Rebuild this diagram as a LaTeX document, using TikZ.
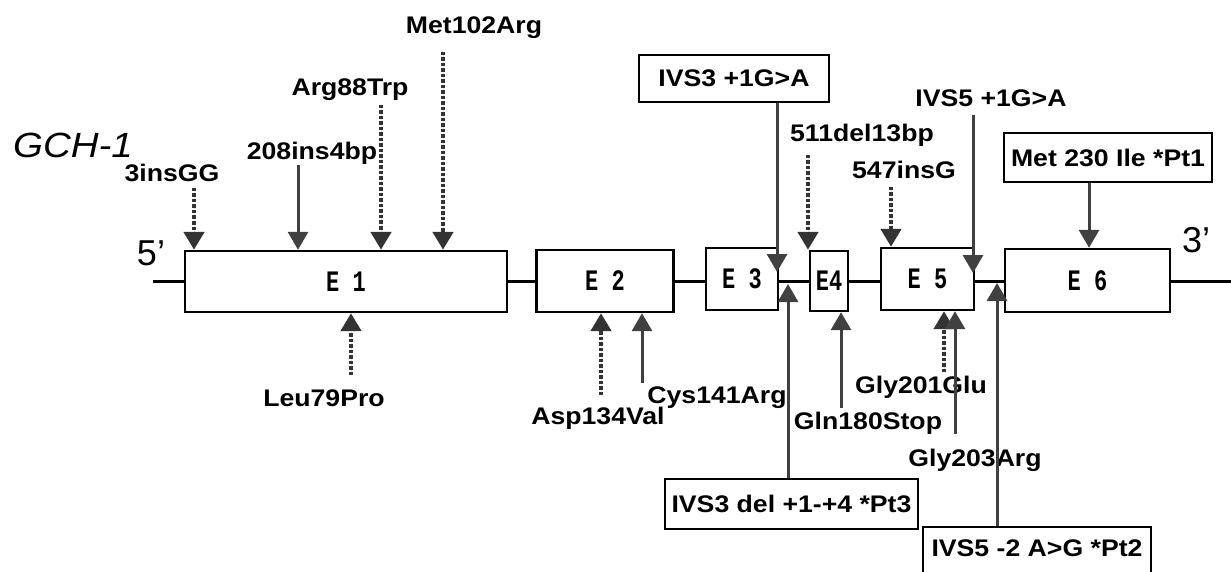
\documentclass[tikz,border=0pt]{standalone}
\usepackage{fontspec}
\setmainfont{Liberation Sans}
\newfontfamily\exfont{Liberation Mono}
\usetikzlibrary{arrows.meta}
\newcommand\wide[1]{\scalebox{1.11}[1]{#1}}
\newcommand\tallx[1]{\scalebox{1}[1.35]{#1}}
\begin{document}
\begin{tikzpicture}[x=1pt,y=-1pt,
  exon/.style={draw=black, line width=2.4pt, fill=white, inner sep=0pt,
    font=\exfont\bfseries\fontsize{22}{22}\selectfont},
  lbl/.style={inner sep=0pt, font=\bfseries\fontsize{24}{26}\selectfont},
  mbox/.style={draw=black, line width=2.2pt, fill=white, inner sep=0pt,
    font=\bfseries\fontsize{24}{26}\selectfont},
  solidarr/.style={draw=black!75, fill=black!75, line width=3pt,
    -{Triangle[width=20pt,length=18pt]}},
  dasharr/.style={draw=black!80, fill=black!80, line width=4.5pt,
    dash pattern=on 3.5pt off 2pt, -{Triangle[width=20pt,length=18pt]}},
  intron/.style={line width=3pt, draw=black}]
\useasboundingbox (0,0) rectangle (1231,572);
\clip (0,0) rectangle (1231,572);

% gene name and ends
\node[inner sep=0pt, font=\itshape\fontsize{35}{36}\selectfont] (gch) at (73,145) {\scalebox{1.1}[1]{GCH-1}};
\node[inner sep=0pt, font=\fontsize{36}{36}\selectfont] (five) at (151,253) {5'};
\node[inner sep=0pt, font=\fontsize{36}{36}\selectfont] (three) at (1196,240) {3'};

% intron line
\coordinate (p5) at (153,281);
\coordinate (p3) at (1231,281);
\draw[intron] (p5) -- (p3);

% exons
\node[exon, minimum width=322pt, minimum height=61pt] (E1) at (346,281.5) {\tallx{E 1}};
\node[exon, minimum width=137pt, minimum height=62pt] (E2) at (605,281) {\tallx{E 2}};
\node[exon, minimum width=72pt, minimum height=62pt] (E3) at (742,279) {\tallx{E 3}};
\node[exon, minimum width=38pt, minimum height=60pt] (E4) at (829,281) {\tallx{E4}};
\node[exon, minimum width=93pt, minimum height=62pt] (E5) at (927.5,279) {\tallx{E 5}};
\node[exon, minimum width=165pt, minimum height=63pt] (E6) at (1087.5,280.5) {\tallx{E 6}};

% mutations above
\node[lbl] (m3ins) at (172,173) {\wide{3insGG}};
\coordinate (s3ins) at (194,188);
\draw[dasharr] (s3ins) -- (s3ins |- E1.north);

\node[lbl] (m208) at (312,153) {\wide{208ins4bp}};
\coordinate (s208) at (298,165);
\draw[solidarr] (s208) -- (s208 |- E1.north);

\node[lbl] (m88) at (350,90) {\wide{Arg88Trp}};
\coordinate (s88) at (381,105);
\draw[dasharr] (s88) -- (s88 |- E1.north);

\node[lbl] (m102) at (474,28) {\wide{Met102Arg}};
\coordinate (s102) at (443,52);
\draw[dasharr] (s102) -- (s102 |- E1.north);

\node[mbox, minimum width=190pt, minimum height=47pt] (ivs3a) at (734,78.5) {\wide{IVS3 +1G>A}};
\coordinate (t3a) at (777,272);
\draw[solidarr] (ivs3a.south -| t3a) -- (t3a);

\node[lbl] (m511) at (862,135) {\wide{511del13bp}};
\coordinate (s511) at (808,155);
\draw[dasharr] (s511) -- (s511 |- E4.north);

\node[lbl] (m547) at (904,170) {\wide{547insG}};
\coordinate (s547) at (891,187);
\draw[dasharr] (s547) -- (s547 |- E5.north);

\node[lbl] (ivs5a) at (991,98) {\wide{IVS5 +1G>A}};
\coordinate (s5a) at (973,115);
\coordinate (t5a) at (973,273);
\draw[solidarr] (s5a) -- (t5a);

\node[mbox, minimum width=208pt, minimum height=49pt] (met230) at (1108,157.5) {\wide{Met 230 Ile *Pt1}};
\coordinate (s230) at (1089,182);
\draw[solidarr] (met230.south -| s230) -- (s230 |- E6.north);

% mutations below
\node[lbl] (m79) at (324,398) {\wide{Leu79Pro}};
\coordinate (s79) at (351,375);
\draw[dasharr] (s79) -- (s79 |- E1.south);

\node[lbl] (m134) at (598,418) {\wide{Asp134Val}};
\coordinate (s134) at (601,395);
\draw[dasharr] (s134) -- (s134 |- E2.south);

\node[lbl] (m141) at (717,398) {\wide{Cys141Arg}};
\coordinate (s141) at (642,383);
\draw[solidarr] (s141) -- (s141 |- E2.south);

\node[mbox, minimum width=253pt, minimum height=50pt] (ivs3del) at (791.5,504) {\wide{IVS3 del +1-+4 *Pt3}};
\coordinate (t3del) at (788,284);
\draw[solidarr] (ivs3del.north -| t3del) -- (t3del);

\node[lbl] (m180) at (868,423) {\wide{Gln180Stop}};
\coordinate (s180) at (841,408);
\draw[solidarr] (s180) -- (s180 |- E4.south);

\node[lbl] (m201) at (921,387) {\wide{Gly201Glu}};
\coordinate (s201) at (944,372);
\draw[dasharr] (s201) -- (s201 |- E5.south);

\node[lbl] (m203) at (975,460) {\wide{Gly203Arg}};
\coordinate (s203) at (955,434);
\draw[solidarr] (s203) -- (s203 |- E5.south);

\node[mbox, minimum width=228pt, minimum height=50pt] (ivs5b) at (1037,552) {\raisebox{7pt}{\wide{IVS5 -2 A>G *Pt2}}};
\coordinate (t5b) at (997,283);
\draw[solidarr] (ivs5b.north -| t5b) -- (t5b);
\end{tikzpicture}
\end{document}
